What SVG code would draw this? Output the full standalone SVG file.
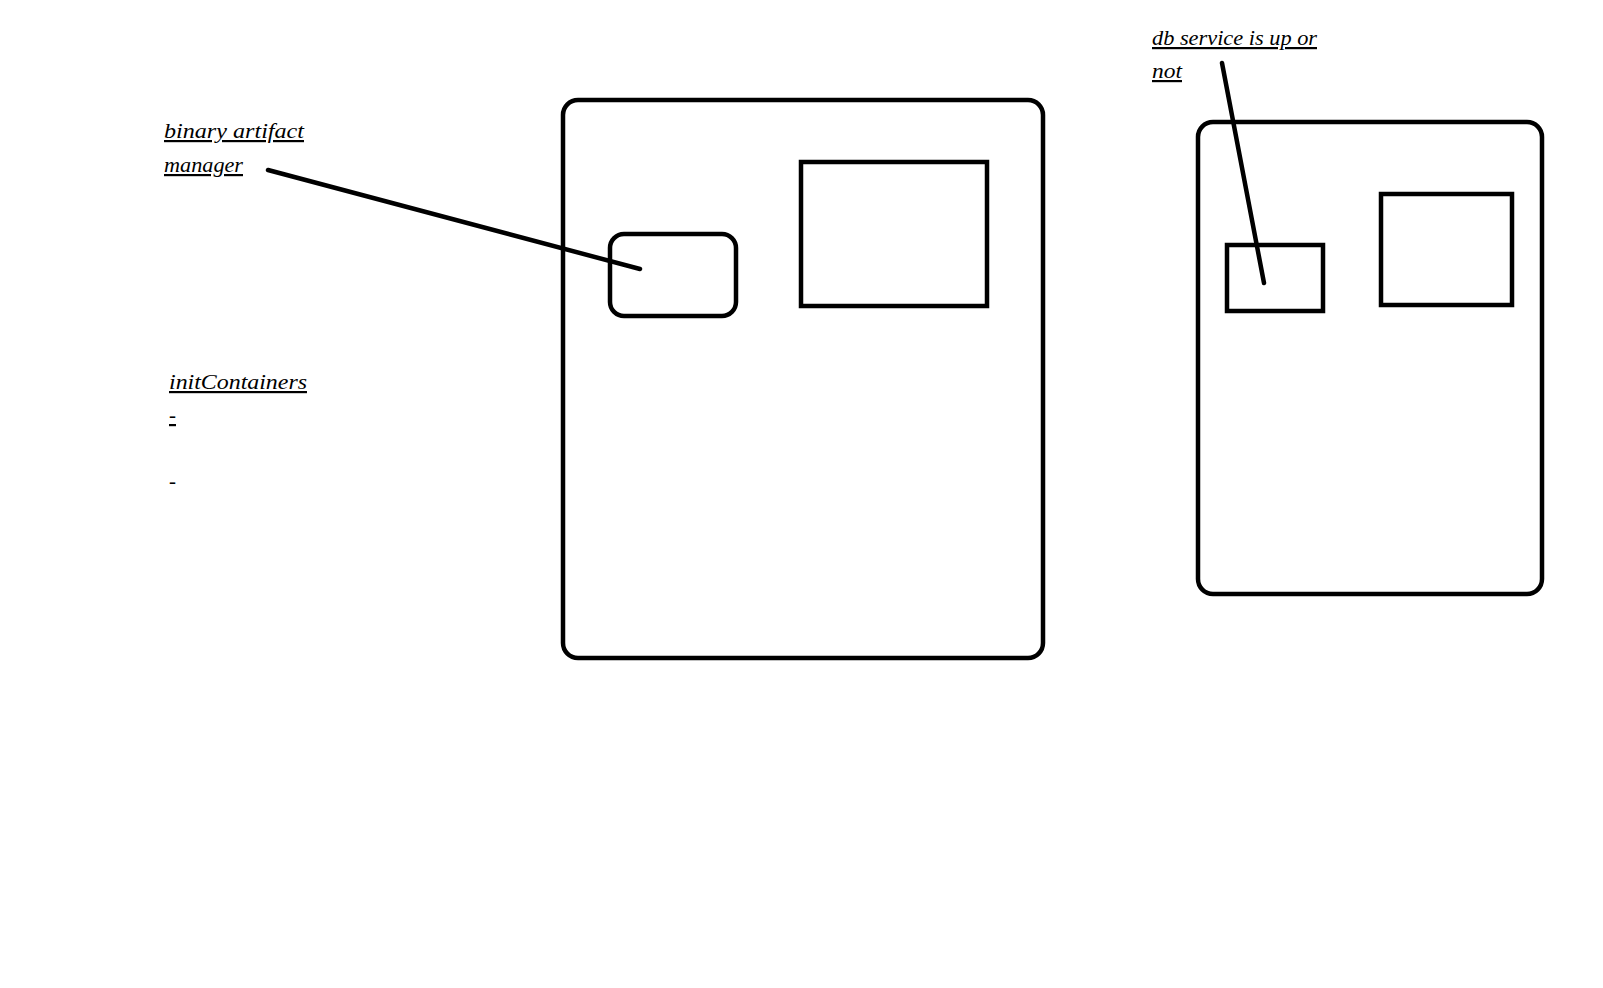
<svg xmlns="http://www.w3.org/2000/svg" width="1603" height="988" viewBox="0 0 1603 988">
<style>
.box{fill:none;stroke:#000;stroke-width:4.5}
.conn{stroke:#000;stroke-width:4.5;stroke-linecap:round;fill:none}
.lbl{font-family:"Liberation Serif","DejaVu Serif",serif;font-style:italic;font-size:22px;fill:#000}
.u{text-decoration:underline}
</style>
<rect width="1603" height="988" fill="#fff"/>
<g id="pod1">
<rect class="box" x="563" y="100" width="480" height="558" rx="15"/>
</g>
<g id="pod1-container-a">
<rect class="box" x="610" y="234" width="126" height="82" rx="14"/>
</g>
<g id="pod1-container-b">
<rect class="box" x="801" y="162" width="186" height="144"/>
</g>
<g id="pod2">
<rect class="box" x="1198" y="122" width="344" height="472" rx="15"/>
</g>
<g id="pod2-container-a">
<rect class="box" x="1227" y="245" width="96" height="66"/>
</g>
<g id="pod2-container-b">
<rect class="box" x="1381" y="194" width="131" height="111"/>
</g>
<g id="label-binary">
<text class="lbl u" x="164" y="138" textLength="140" lengthAdjust="spacingAndGlyphs">binary artifact</text>
<text class="lbl u" x="164" y="172" textLength="79" lengthAdjust="spacingAndGlyphs">manager</text>
</g>
<g id="label-init">
<text class="lbl u" x="169" y="389" textLength="138" lengthAdjust="spacingAndGlyphs">initContainers</text>
<text class="lbl u" x="169" y="422" textLength="7" lengthAdjust="spacingAndGlyphs">-</text>
<text class="lbl" x="169" y="488" textLength="7" lengthAdjust="spacingAndGlyphs">-</text>
</g>
<g id="label-db">
<text class="lbl u" x="1152" y="45" textLength="165" lengthAdjust="spacingAndGlyphs">db service is up or</text>
<text class="lbl u" x="1152" y="78" textLength="30" lengthAdjust="spacingAndGlyphs">not</text>
</g>
<g id="connectors">
<line class="conn" x1="268" y1="170" x2="640" y2="269"/>
<line class="conn" x1="1222" y1="63" x2="1264" y2="283"/>
</g>
</svg>
